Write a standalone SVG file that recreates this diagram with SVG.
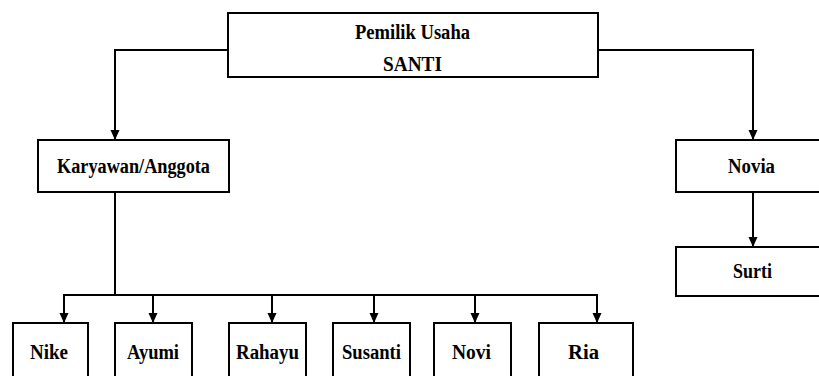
<svg xmlns="http://www.w3.org/2000/svg" width="819" height="376" viewBox="0 0 819 376">
<style>
.box{fill:#fff;stroke:#000;stroke-width:2}
.lbl{font-weight:bold;font-size:20px;fill:#000;text-anchor:middle}
.ln{fill:none;stroke:#000;stroke-width:2}
</style>
<defs>
<marker id="ah" markerWidth="10" markerHeight="10" refX="9" refY="4.5" orient="auto" markerUnits="userSpaceOnUse">
<path d="M0,0 L10,4.5 L0,9 Z" fill="#000"/>
</marker>
</defs>
<rect width="819" height="376" fill="#fff"/>
<g id="connectors">
<path class="ln" d="M228,50 H115 V139" marker-end="url(#ah)"/>
<path class="ln" d="M598,50 H753 V139" marker-end="url(#ah)"/>
<path class="ln" d="M753,193 V246" marker-end="url(#ah)"/>
<path class="ln" d="M115,192 V295"/>
<path class="ln" d="M63,295 H598"/>
<path class="ln" d="M64,295 V322" marker-end="url(#ah)"/>
<path class="ln" d="M153,295 V322" marker-end="url(#ah)"/>
<path class="ln" d="M272,295 V322" marker-end="url(#ah)"/>
<path class="ln" d="M374,295 V322" marker-end="url(#ah)"/>
<path class="ln" d="M475,295 V322" marker-end="url(#ah)"/>
<path class="ln" d="M597,295 V322" marker-end="url(#ah)"/>
</g>
<g font-family="Liberation Serif, Times New Roman, DejaVu Serif, serif">
<g id="pemilik">
<rect class="box" x="228" y="13" width="370" height="64"/>
<text class="lbl" x="412.5" y="39" textLength="115" lengthAdjust="spacingAndGlyphs">Pemilik Usaha</text>
<text class="lbl" x="412.5" y="71" textLength="59" lengthAdjust="spacingAndGlyphs">SANTI</text>
</g>
<g id="karyawan">
<rect class="box" x="38" y="140" width="191" height="52"/>
<text class="lbl" x="133.5" y="173" textLength="153" lengthAdjust="spacingAndGlyphs">Karyawan/Anggota</text>
</g>
<g id="novia">
<rect class="box" x="676" y="140" width="152" height="52"/>
<text class="lbl" x="751.5" y="173" textLength="47" lengthAdjust="spacingAndGlyphs">Novia</text>
</g>
<g id="surti">
<rect class="box" x="676" y="247" width="152" height="49"/>
<text class="lbl" x="752.5" y="278" textLength="39" lengthAdjust="spacingAndGlyphs">Surti</text>
</g>
<g id="nike">
<rect class="box" x="13" y="323" width="75" height="70"/>
<text class="lbl" x="49" y="359" textLength="38" lengthAdjust="spacingAndGlyphs">Nike</text>
</g>
<g id="ayumi">
<rect class="box" x="115" y="323" width="77" height="70"/>
<text class="lbl" x="153" y="359" textLength="52" lengthAdjust="spacingAndGlyphs">Ayumi</text>
</g>
<g id="rahayu">
<rect class="box" x="229" y="323" width="77" height="70"/>
<text class="lbl" x="267.5" y="359" textLength="63" lengthAdjust="spacingAndGlyphs">Rahayu</text>
</g>
<g id="susanti">
<rect class="box" x="333" y="323" width="77" height="70"/>
<text class="lbl" x="371.5" y="359" textLength="59" lengthAdjust="spacingAndGlyphs">Susanti</text>
</g>
<g id="novi">
<rect class="box" x="434" y="323" width="77" height="70"/>
<text class="lbl" x="471.5" y="359" textLength="39" lengthAdjust="spacingAndGlyphs">Novi</text>
</g>
<g id="ria">
<rect class="box" x="539" y="323" width="94" height="70"/>
<text class="lbl" x="583.5" y="359" textLength="31" lengthAdjust="spacingAndGlyphs">Ria</text>
</g>
</g>
</svg>
